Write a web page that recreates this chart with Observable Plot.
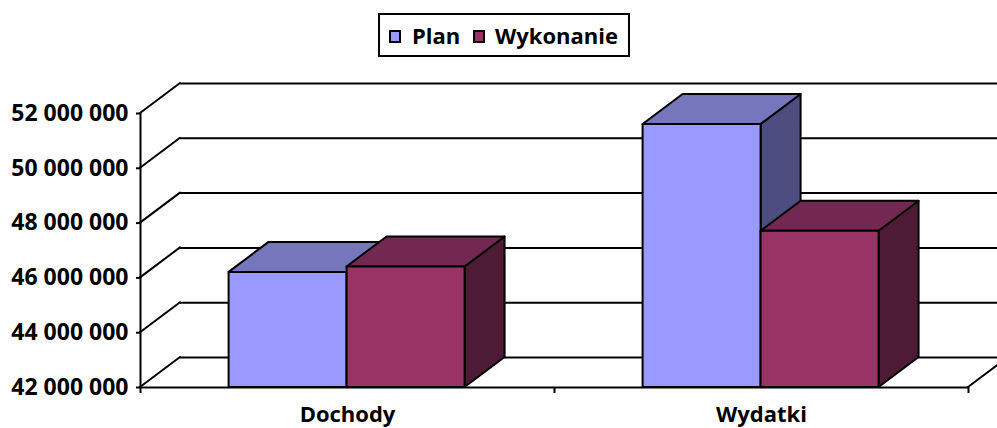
<!DOCTYPE html>
<html>
<head>
<meta charset="utf-8">
<script src="https://cdn.jsdelivr.net/npm/d3@7"></script>
<script src="https://cdn.jsdelivr.net/npm/@observablehq/plot@0.6"></script>
<style>
  html, body { margin: 0; padding: 0; background: #fff; }
  body { font-family: "Open Sans", sans-serif; width: 997px; height: 428px; overflow: hidden; }
  #legend { position: relative; height: 62px; }
  #legend .box { position: absolute; left: 378px; top: 13px; width: 248px; height: 40px; border: 2px solid #000; }
  #legend .sw { position: absolute; width: 8px; height: 9px; border: 2px solid #000; top: 30px; }
  #legend .tx { position: absolute; top: 20px; font-size: 22px; line-height: 30px; font-weight: bold; color: #000; white-space: nowrap; }
  svg { display: block; }
</style>
</head>
<body>
<div id="legend"></div>
<div id="chart"></div>
<script>
// ---- data ----
const categories = ["Dochody", "Wydatki"];
const series = ["Plan", "Wykonanie"];
const plan = [46200000, 51600000];
const wykonanie = [46400000, 47700000];
const yTicks = [42000000, 44000000, 46000000, 48000000, 50000000, 52000000];

// ---- style ----
const palette = [
  { front: "#9999FF", top: "#7676BD", side: "#4D4D80" },
  { front: "#993366", top: "#722850", side: "#4D1B35" }
];
const DX = 40, DY = -30;     // 3D depth offset in pixels
const PAD = 0.214, BW = 0.285; // bar layout inside a category band
const BASE = yTicks[0];

// legend (HTML, above the SVG)
const legend = document.getElementById("legend");
legend.innerHTML = `<div class="box"></div>
  <div class="sw" style="left:389px;background:${palette[0].front}"></div>
  <div class="tx" style="left:412px">${series[0]}</div>
  <div class="sw" style="left:473px;background:${palette[1].front}"></div>
  <div class="tx" style="left:495px">${series[1]}</div>`;

const values = [plan, wykonanie];
const bars = categories.flatMap((c, ci) => series.map((s, si) => ({ cat: c, ser: s, ci, si, value: values[si][ci] })));

const fmt = d => d3.format(",")(d).replace(/,/g, " ");

function line(g, x1, y1, x2, y2) {
  g.append("line").attr("x1", x1).attr("y1", y1).attr("x2", x2).attr("y2", y2);
}

// left side wall diagonals + right floor edge
function wallDiagonals(index, scales, vals) {
  const g = d3.create("svg:g").attr("stroke", "#000").attr("stroke-width", 2).attr("stroke-linecap", "round");
  const x0 = scales.x(0);
  for (const i of index) {
    const y = vals.y[i];
    line(g, x0, y, x0 + DX, y + DY);
  }
  const xr = scales.x(categories.length), yb = scales.y(BASE);
  line(g, xr, yb, xr + DX, yb + DY);
  return g.node();
}

// 3D bars: side, top, front faces
function bars3d(index, scales, vals) {
  const g = d3.create("svg:g").attr("stroke", "#000").attr("stroke-width", 2).attr("stroke-linejoin", "round");
  for (const i of index) {
    const x1 = vals.x1[i], x2 = vals.x2[i], yb = vals.y1[i], yt = vals.y2[i];
    const c = palette[bars[i].si];
    g.append("polygon").attr("fill", c.side)
      .attr("points", [[x2, yt], [x2 + DX, yt + DY], [x2 + DX, yb + DY], [x2, yb]].join(" "));
    g.append("polygon").attr("fill", c.top)
      .attr("points", [[x1, yt], [x2, yt], [x2 + DX, yt + DY], [x1 + DX, yt + DY]].join(" "));
    g.append("polygon").attr("fill", c.front)
      .attr("points", [[x1, yt], [x2, yt], [x2, yb], [x1, yb]].join(" "));
  }
  return g.node();
}

const chart = Plot.plot({
  width: 997,
  height: 366,
  marginLeft: 140,
  marginRight: 29,
  marginTop: 51,
  marginBottom: 41,
  style: { fontFamily: "Open Sans, sans-serif", fontSize: "22px", fontWeight: "bold", color: "#000", background: "#fff" },
  x: { domain: [0, categories.length], axis: null },
  y: { domain: [yTicks[0], yTicks[yTicks.length - 1]], axis: null },
  marks: [
    // back wall gridlines
    Plot.ruleY(yTicks, { x1: () => 0, x2: () => categories.length, dx: DX, dy: DY, stroke: "#000", strokeWidth: 2 }),
    // side wall diagonals
    Plot.ruleY(yTicks, { render: wallDiagonals }),
    // front floor line
    Plot.ruleY([BASE], { x1: () => 0, x2: () => categories.length, stroke: "#000", strokeWidth: 2 }),
    // front value axis line
    Plot.ruleX([0], { y1: () => yTicks[0], y2: () => yTicks[yTicks.length - 1], stroke: "#000", strokeWidth: 2 }),
    // category boundary ticks
    Plot.axisX(d3.range(categories.length + 1), { tickSize: 6, strokeWidth: 2, tickFormat: () => "", label: null }),
    // value axis
    Plot.axisY(yTicks, { tickSize: 4, tickPadding: 8, strokeWidth: 2, tickFormat: fmt, fontSize: 23, fontWeight: "bold", label: null }),
    // bars
    Plot.rect(bars, { x1: d => d.ci + PAD + d.si * BW, x2: d => d.ci + PAD + (d.si + 1) * BW, y1: () => BASE, y2: d => d.value, render: bars3d }),
    // category labels
    Plot.text(categories, { x: (d, i) => i + 0.5, y: () => BASE, text: d => d, dy: 19, lineAnchor: "top", fontSize: 22, fontWeight: "bold", fill: "#000" })
  ]
});
document.getElementById("chart").appendChild(chart);
</script>
</body>
</html>
